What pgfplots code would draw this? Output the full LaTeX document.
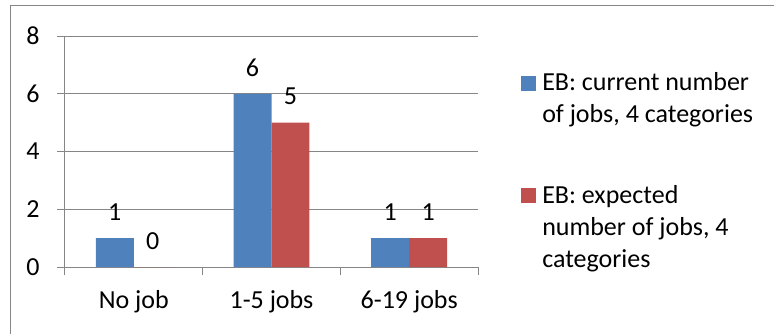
\documentclass[border=0pt]{standalone}
\usepackage{pgfplots}
\pgfplotsset{compat=1.18}
\usepackage{fontspec}
\setmainfont{Carlito}
\definecolor{eblue}{HTML}{4F81BD}
\definecolor{ered}{HTML}{C0504D}
\definecolor{gridgray}{HTML}{868686}
\begin{document}
\begin{tikzpicture}[x=1pt,y=1pt]
\useasboundingbox (0,0) rectangle (774,333);
\begin{axis}[
  at={(65pt,66pt)}, anchor=south west,
  scale only axis, width=413pt, height=231pt,
  font=\fontsize{26}{32}\selectfont,
  /pgf/number format/assume math mode=true,
  ybar=0pt, bar width=0.276,
  xmin=-0.5, xmax=2.5, ymin=0, ymax=8,
  xtick={0,1,2}, xticklabels={No job,1-5 jobs,6-19 jobs},
  minor xtick={-0.5,0.5,1.5,2.5},
  ytick={0,2,4,6,8},
  axis x line*=bottom, axis y line*=left,
  axis line style={-, gridgray, line width=1pt},
  tick align=outside, major tick length=8pt, minor tick length=8pt,
  major x tick style={draw=none},
  minor x tick style={gridgray, line width=1pt},
  major y tick style={gridgray, line width=1pt},
  ymajorgrids, grid style={gridgray, line width=1pt},
  xticklabel style={yshift=-12pt},
  yticklabel style={xshift=-14pt},
  nodes near coords,
  every node near coord/.append style={yshift=14pt, font=\fontsize{26}{32}\selectfont},
  legend style={draw=none, fill=none, at={(1.097,0.86)}, anchor=north west,
    cells={anchor=north west, align=left}, row sep=57pt,
    font=\fontsize{26}{32}\selectfont},
  legend image code/.code={\path (19pt,0pt);\fill[#1] (0pt,-20pt) rectangle (15pt,-5pt);},
]
\addplot[fill=eblue, draw=none] coordinates {(0,1) (1,6) (2,1)};
\addplot[fill=ered, draw=none] coordinates {(0,0) (1,5) (2,1)};
\legend{{EB: current number\\of jobs, 4 categories}, {EB: expected\\number of jobs, 4\\categories}}
\end{axis}
\draw[gridgray, line width=1pt] (10,-2) -- (10,327) -- (780,327);
\end{tikzpicture}
\end{document}
